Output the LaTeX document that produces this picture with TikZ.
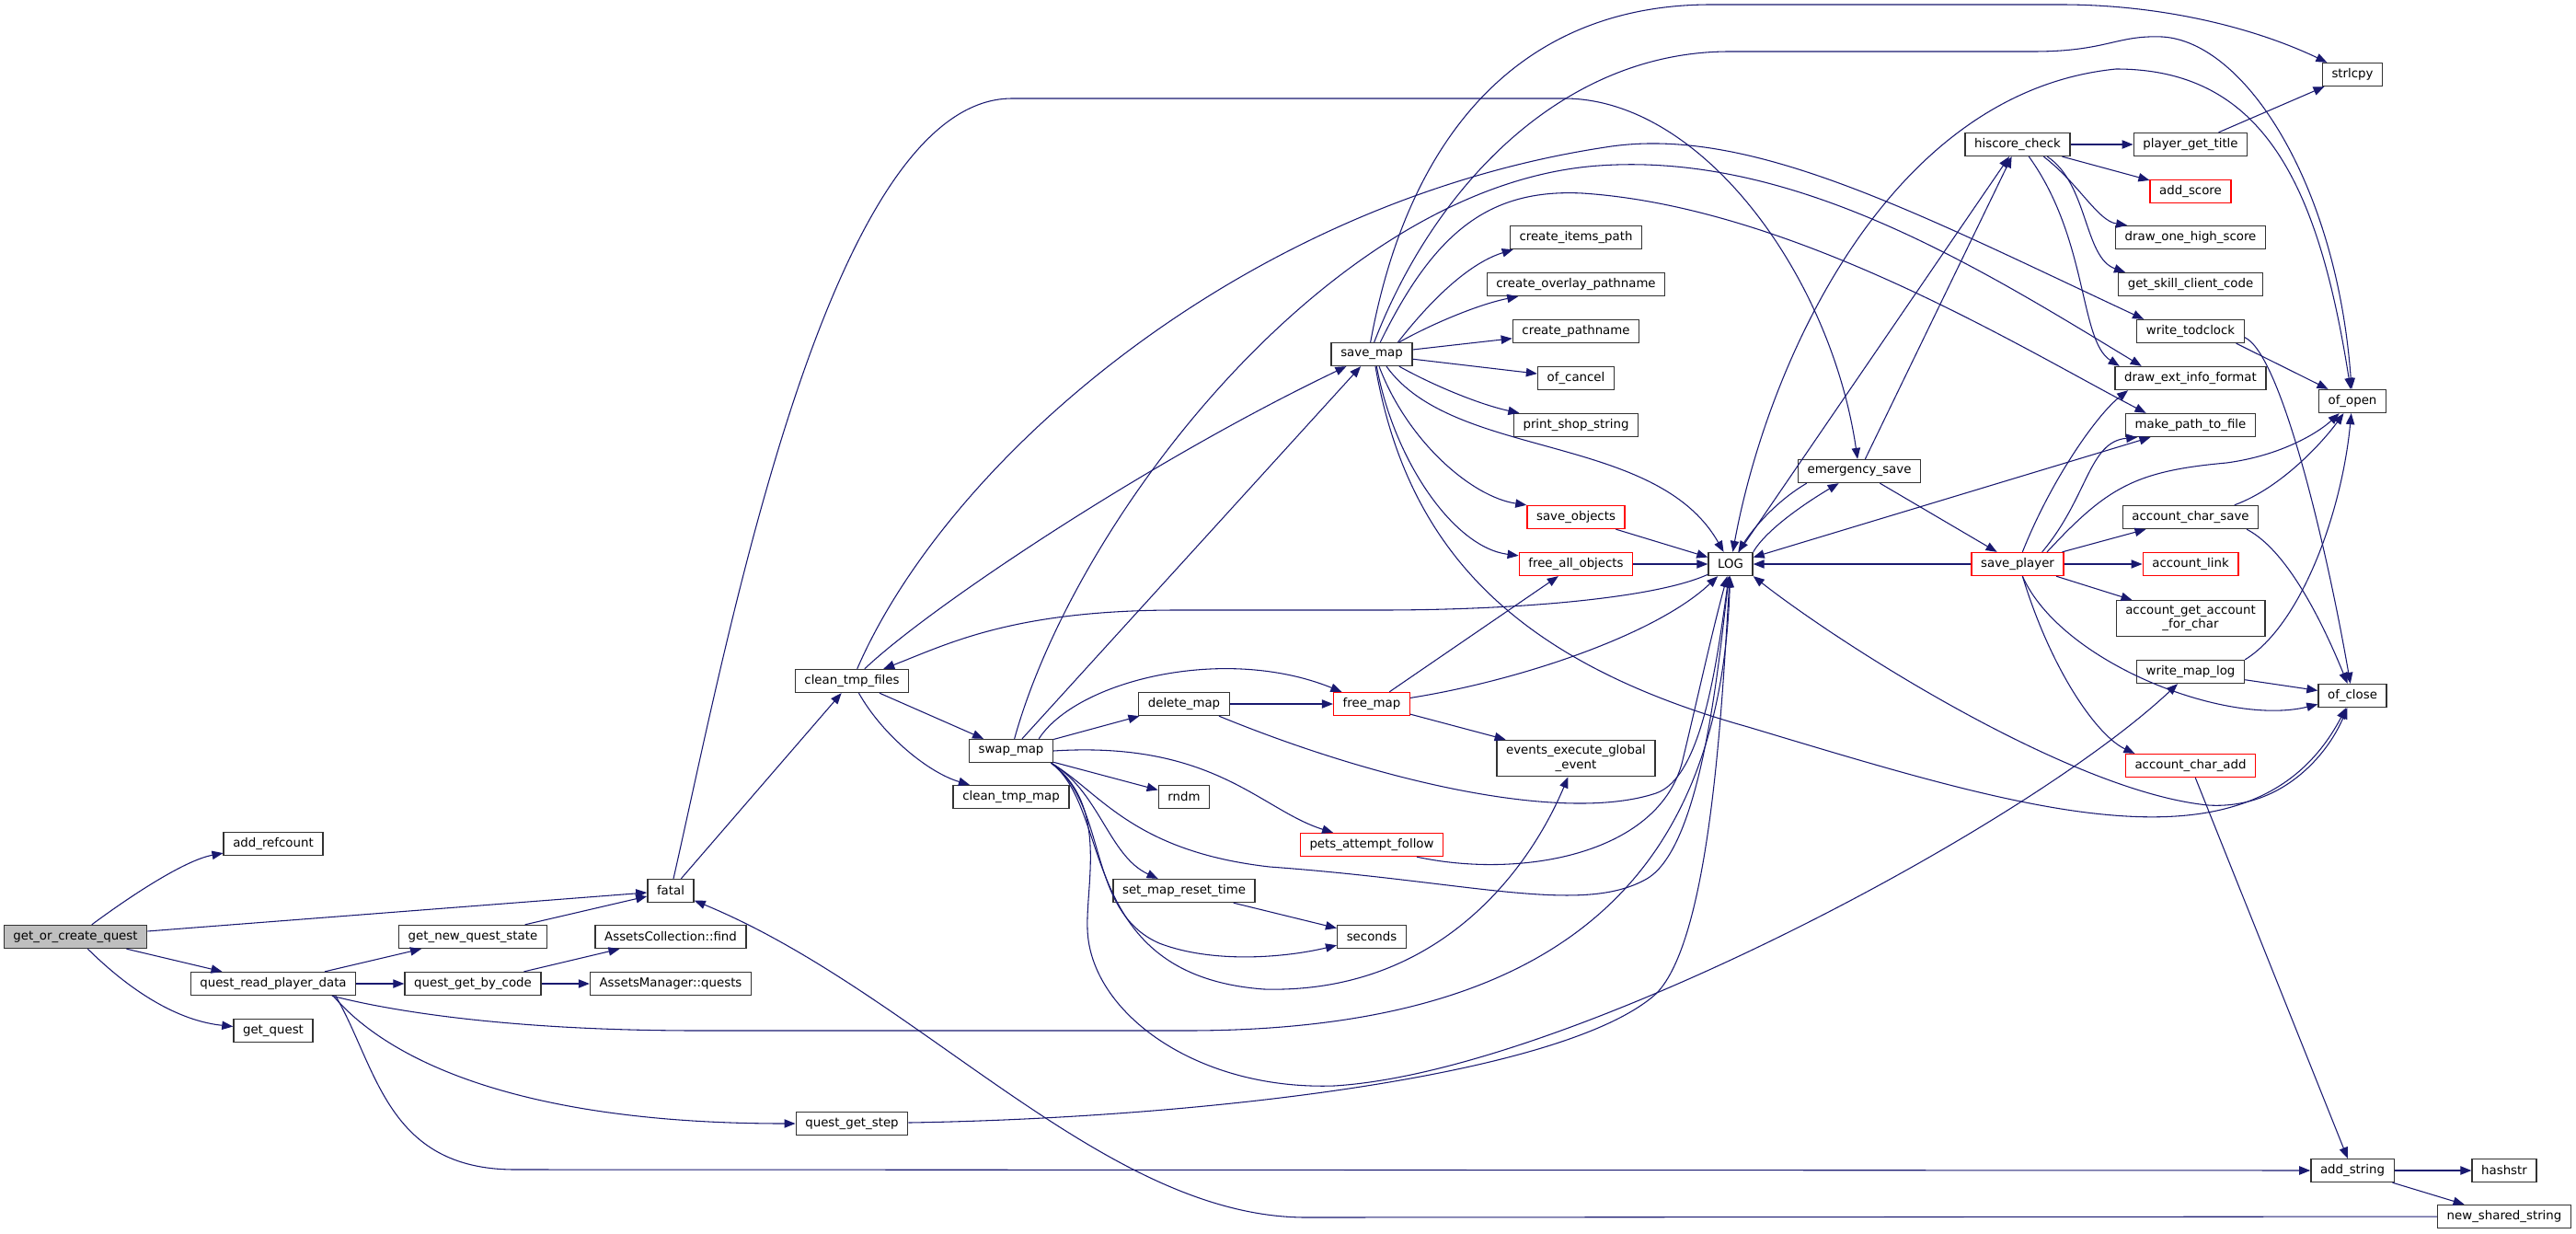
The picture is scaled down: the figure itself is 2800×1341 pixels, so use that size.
\documentclass[tikz,border=0pt]{standalone}
\usepackage{fontspec}
\setmainfont{DejaVu Sans}
\usetikzlibrary{arrows.meta}
\definecolor{edgeblue}{HTML}{191970}
\definecolor{rootgray}{HTML}{BFBFBF}
\tikzset{
  fn/.style={draw=black!80, line width=1pt, fill=white, inner xsep=7.6pt, inner ysep=4pt, minimum height=18.75pt, align=center, font=\fontsize{10}{11.5}\selectfont},
  fnred/.style={fn, draw=red},
  fnroot/.style={fn, fill=rootgray},
  call/.style={draw=edgeblue, line width=0.8pt, -{Triangle[length=9pt, width=7pt]}},
  twoway/.style={call, {Triangle[length=9pt, width=7pt]}-{Triangle[length=9pt, width=7pt]}},
}
\begin{document}
\begin{tikzpicture}[x=0.75pt, y=-0.75pt]
\useasboundingbox (0,0) rectangle (2800,1341);
\node[fnroot] (getorcreate) at (82,1018) {get\_or\_create\_quest};
\node[fn] (addref) at (297,917) {add\_refcount};
\node[fn] (qread) at (297,1069) {quest\_read\_player\_data};
\node[fn] (getquest) at (297,1120) {get\_quest};
\node[fn] (newstate) at (514,1018) {get\_new\_quest\_state};
\node[fn] (getbycode) at (514,1069) {quest\_get\_by\_code};
\node[fn] (fatal) at (729,968) {fatal};
\node[fn] (acfind) at (729,1018) {AssetsCollection::find};
\node[fn] (amquests) at (729,1069) {AssetsManager::quests};
\node[fn] (cleanfiles) at (926,740) {clean\_tmp\_files};
\node[fn] (qstep) at (926,1221) {quest\_get\_step};
\node[fn] (swapmap) at (1099,816) {swap\_map};
\node[fn] (cleanmap) at (1099,866) {clean\_tmp\_map};
\node[fn] (deletemap) at (1287,765) {delete\_map};
\node[fn] (rndm) at (1287,866) {rndm};
\node[fn] (setreset) at (1287,968) {set\_map\_reset\_time};
\node[fn] (savemap) at (1491,385) {save\_map};
\node[fnred] (freemap) at (1491,765) {free\_map};
\node[fnred] (pets) at (1491,918) {pets\_attempt\_follow};
\node[fn] (seconds) at (1491,1018) {seconds};
\node[fn] (citems) at (1713,258) {create\_items\_path};
\node[fn] (coverlay) at (1713,309) {create\_overlay\_pathname};
\node[fn] (cpath) at (1713,360) {create\_pathname};
\node[fn] (ofcancel) at (1713,411) {of\_cancel};
\node[fn] (printshop) at (1713,462) {print\_shop\_string};
\node[fnred] (saveobj) at (1713,562) {save\_objects};
\node[fnred] (freeall) at (1713,613) {free\_all\_objects};
\node[fn] (events) at (1713,824) {events\_execute\_global\\\_event};
\node[fn] (logf) at (1881,613) {LOG};
\node[fn] (emerg) at (2021,512) {emergency\_save};
\node[fn] (hiscore) at (2193,157) {hiscore\_check};
\node[fnred] (saveplayer) at (2193,613) {save\_player};
\node[fn] (ptitle) at (2381,157) {player\_get\_title};
\node[fnred] (addscore) at (2381,208) {add\_score};
\node[fn] (drawone) at (2381,258) {draw\_one\_high\_score};
\node[fn] (skillcode) at (2381,309) {get\_skill\_client\_code};
\node[fn] (todclock) at (2381,360) {write\_todclock};
\node[fn] (extinfo) at (2381,411) {draw\_ext\_info\_format};
\node[fn] (mkpath) at (2381,462) {make\_path\_to\_file};
\node[fn] (acsave) at (2381,562) {account\_char\_save};
\node[fnred] (aclink) at (2381,613) {account\_link};
\node[fn] (acget) at (2381,672) {account\_get\_account\\\_for\_char};
\node[fn] (maplog) at (2381,730) {write\_map\_log};
\node[fnred] (acadd) at (2381,832) {account\_char\_add};
\node[fn] (strlcpy) at (2557,81) {strlcpy};
\node[fn] (ofopen) at (2557,436) {of\_open};
\node[fn] (ofclose) at (2557,756) {of\_close};
\node[fn] (addstring) at (2557,1272) {add\_string};
\node[fn] (hashstr) at (2722,1272) {hashstr};
\node[fn] (newshared) at (2722,1322) {new\_shared\_string};
\draw[call] (getorcreate) .. controls (140,975) and (200,935) .. (addref);
\draw[call] (getorcreate) -- (fatal);
\draw[call] (getorcreate) -- (qread);
\draw[call] (getorcreate) .. controls (150,1085) and (200,1110) .. (getquest);
\draw[call] (qread) -- (newstate);
\draw[call] (qread) -- (getbycode);
\draw[call] ([xshift=-20pt]qread.south east) .. controls (430,1100) and (560,1120) .. (760,1120) -- (1290,1120) .. controls (1700,1120) and (1870,950) .. (logf);
\draw[call] ([xshift=-19pt]qread.south east) .. controls (420,1150) and (560,1221) .. (qstep);
\draw[call] ([xshift=-17pt]qread.south east) .. controls (410,1160) and (420,1271) .. (560,1271) -- (addstring);
\draw[call] (newstate) -- (fatal);
\draw[call] (getbycode) -- (acfind);
\draw[call] (getbycode) -- (amquests);
\draw[call] (fatal) -- (cleanfiles);
\draw[call] (fatal) .. controls (790,700) and (900,107) .. (1100,107) -- (1700,107) .. controls (1850,107) and (1990,300) .. (emerg);
\draw[call] (cleanfiles) .. controls (1010,660) and (1250,500) .. (savemap);
\draw[call] (cleanfiles) -- (swapmap);
\draw[call] (cleanfiles) .. controls (960,800) and (1010,840) .. (cleanmap);
\draw[call] (cleanfiles) .. controls (1030,500) and (1350,220) .. (1745,160) .. controls (1900,135) and (2080,230) .. ([xshift=6pt]todclock.north west);
\draw[call] (swapmap) -- (savemap);
\draw[call] (swapmap) .. controls (1170,560) and (1450,200) .. (1738,180) .. controls (1950,165) and (2150,290) .. ([xshift=22pt]extinfo.north west);
\draw[call] (swapmap) -- (deletemap);
\draw[call] ([xshift=-12pt]swapmap.north east) .. controls (1170,740) and (1330,700) .. (freemap);
\draw[call] (swapmap) -- (rndm);
\draw[call] (swapmap.east) .. controls (1320,805) and (1370,880) .. (pets);
\draw[call] ([xshift=-2pt]swapmap.south east) .. controls (1195,860) and (1205,930) .. (setreset);
\draw[call] ([xshift=-2pt]swapmap.south east) .. controls (1205,875) and (1180,990) .. (1260,1025) .. controls (1320,1048) and (1400,1040) .. (seconds);
\draw[call] ([xshift=-2pt]swapmap.south east) .. controls (1210,880) and (1170,1060) .. (1374,1075) .. controls (1560,1080) and (1660,950) .. (events);
\draw[call] ([xshift=-2pt]swapmap.south east) .. controls (1195,860) and (1230,925) .. (1380,942) .. controls (1600,958) and (1720,995) .. (1790,955) .. controls (1850,920) and (1868,720) .. (logf);
\draw[call] ([xshift=-2pt]swapmap.south east) .. controls (1205,875) and (1180,960) .. (1182,1010) .. controls (1185,1100) and (1300,1185) .. (1450,1180) .. controls (1700,1165) and (2200,900) .. (maplog);
\draw[call] (setreset) -- (seconds);
\draw[call] (deletemap) -- (freemap);
\draw[call] ([xshift=-9pt]deletemap.south east) .. controls (1500,850) and (1700,895) .. (1800,862) .. controls (1850,845) and (1866,720) .. (logf);
\draw[call] (freemap) -- (freeall);
\draw[call] (freemap) .. controls (1650,740) and (1800,690) .. (logf);
\draw[call] (freemap) -- (events);
\draw[call] ([xshift=-12pt]savemap.north east) .. controls (1560,320) and (1600,285) .. ([xshift=3pt]citems.south west);
\draw[call] ([xshift=-11pt]savemap.north east) .. controls (1560,350) and (1610,330) .. ([xshift=26pt]coverlay.south west);
\draw[call] (savemap) -- (cpath);
\draw[call] (savemap) -- (ofcancel);
\draw[call] ([xshift=-11pt]savemap.south east) .. controls (1560,420) and (1610,440) .. ([xshift=5pt]printshop.north west);
\draw[call] ([xshift=6pt]savemap.south) .. controls (1530,480) and (1600,540) .. (saveobj.north west);
\draw[call] ([xshift=4pt]savemap.south) .. controls (1515,500) and (1580,595) .. ([yshift=-3pt]freeall.north west);
\draw[call] ([xshift=12pt]savemap.south) .. controls (1580,500) and (1800,470) .. (logf);
\draw[call] ([xshift=3pt]savemap.south) .. controls (1530,600) and (1650,720) .. (1900,790) .. controls (2200,880) and (2450,960) .. (ofclose);
\draw[call] ([xshift=-1pt]savemap.north) .. controls (1530,150) and (1650,5) .. (1860,5) -- (2240,5) .. controls (2350,5) and (2450,30) .. (strlcpy);
\draw[call] ([xshift=2pt]savemap.north) .. controls (1560,200) and (1700,56) .. (1880,56) -- (2210,56) .. controls (2290,56) and (2300,38) .. (2350,40) .. controls (2440,45) and (2540,200) .. (ofopen);
\draw[call] ([xshift=7pt]savemap.north) .. controls (1560,250) and (1620,205) .. (1720,210) .. controls (1950,225) and (2200,380) .. ([xshift=17pt]mkpath.north west);
\draw[call] (saveobj) -- (logf);
\draw[call] (freeall) -- (logf);
\draw[call] (logf) .. controls (1800,650) and (1650,663) .. (1500,663) -- (1280,663) .. controls (1100,663) and (1030,700) .. (cleanfiles);
\draw[call] (logf.north east) .. controls (1920,575) and (1965,545) .. (emerg);
\draw[call] ([xshift=7.5pt]emerg.south west) .. controls (1930,545) and (1905,575) .. (logf);
\draw[call] (emerg) -- (hiscore);
\draw[call] (emerg) -- (saveplayer);
\draw[call] (logf) -- (hiscore);
\draw[twoway] (ofopen) .. controls (2520,200) and (2460,75) .. (2300,75) .. controls (2050,100) and (1920,400) .. (logf);
\draw[twoway] (logf) -- (mkpath);
\draw[twoway] (ofclose) .. controls (2530,820) and (2480,880) .. (2400,875) .. controls (2250,860) and (2000,700) .. (logf.south east);
\draw[call] (saveplayer) -- (logf);
\draw[call] (hiscore) -- (ptitle);
\draw[call] (hiscore) -- (addscore);
\draw[call] ([xshift=-22pt]hiscore.south east) .. controls (2260,200) and (2280,240) .. ([xshift=10pt]drawone.north west);
\draw[call] ([xshift=-19pt]hiscore.south east) .. controls (2270,200) and (2265,280) .. ([xshift=6pt]skillcode.north west);
\draw[call] ([xshift=-34pt]hiscore.south east) .. controls (2270,260) and (2260,370) .. ([xshift=4pt]extinfo.north west);
\draw[call] (ptitle) -- (strlcpy);
\draw[call] ([xshift=4pt]saveplayer.north) .. controls (2230,520) and (2280,450) .. ([xshift=11pt]extinfo.south west);
\draw[call] ([xshift=20pt]saveplayer.north) .. controls (2270,540) and (2270,480) .. ([xshift=10pt]mkpath.south west);
\draw[call] ([xshift=24pt]saveplayer.north) .. controls (2290,530) and (2320,512) .. (2420,503) .. controls (2480,495) and (2520,470) .. (ofopen);
\draw[call] (saveplayer) -- (acsave);
\draw[call] (saveplayer) -- (aclink);
\draw[call] (saveplayer) -- (acget);
\draw[call] ([xshift=4pt]saveplayer.south) .. controls (2240,720) and (2420,790) .. (ofclose);
\draw[call] ([xshift=4pt]saveplayer.south) .. controls (2230,730) and (2280,800) .. ([xshift=8pt]acadd.north west);
\draw[call] ([xshift=-20pt]acsave.north east) .. controls (2480,530) and (2525,480) .. (ofopen);
\draw[call] ([xshift=-10pt]acsave.south east) .. controls (2490,600) and (2530,690) .. (ofclose);
\draw[call] (maplog.north east) .. controls (2500,680) and (2545,560) .. (ofopen);
\draw[call] (maplog) -- (ofclose);
\draw[call] ([xshift=-7pt]todclock.south east) -- (ofopen);
\draw[call] ([yshift=-5pt]todclock.east) .. controls (2480,385) and (2530,600) .. (ofclose);
\draw[call] (acadd) -- (addstring);
\draw[call] (addstring) -- (hashstr);
\draw[call] (addstring) -- (newshared);
\draw[call] (newshared) -- (1420,1323) .. controls (1200,1323) and (1000,1080) .. (fatal);
\draw[call] (qstep) .. controls (1300,1215) and (1700,1170) .. (1800,1080) .. controls (1860,1020) and (1872,760) .. (logf);
\draw[call] ([xshift=-22pt]pets.south east) .. controls (1650,955) and (1800,930) .. (1828,830) .. controls (1845,760) and (1860,690) .. (logf);
\end{tikzpicture}
\end{document}
